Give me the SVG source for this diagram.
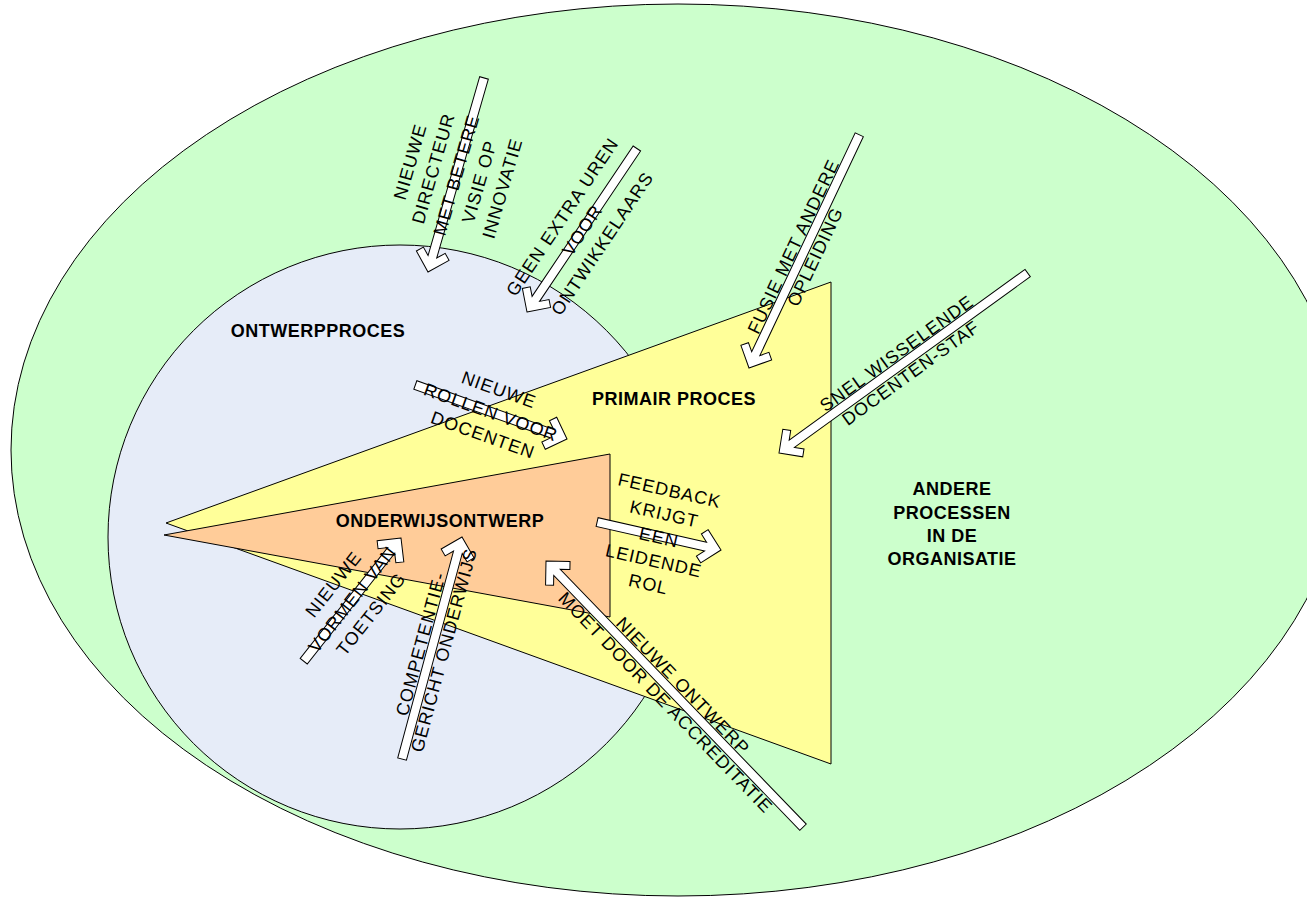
<svg xmlns="http://www.w3.org/2000/svg" width="1316" height="897" viewBox="0 0 1316 897">
<style>
.node{stroke:#000;stroke-width:1}
.title{font-family:"Liberation Sans",Arial,sans-serif;font-size:18px;font-weight:bold;letter-spacing:0.5px;fill:#000;text-anchor:middle}
.arrow{fill:#fff;stroke:#000;stroke-width:1;stroke-linejoin:miter}
.lbl{font-family:"Liberation Sans",Arial,sans-serif;font-size:18px;letter-spacing:1px;fill:#000;text-anchor:middle}
</style>
<defs>
<clipPath id="clipR"><rect x="0" y="0" width="1307" height="897"/></clipPath>
</defs>
<rect x="0" y="0" width="1316" height="897" fill="#fff"/>
<g id="andere-processen">
<ellipse class="node" cx="678" cy="450" rx="667" ry="446" fill="#CCFFCC" clip-path="url(#clipR)"/>
<text class="title"><tspan x="952" y="495">ANDERE</tspan><tspan x="952" y="519">PROCESSEN</tspan><tspan x="952" y="542">IN DE</tspan><tspan x="952" y="565">ORGANISATIE</tspan></text>
</g>
<g id="ontwerpproces">
<circle class="node" cx="400" cy="537" r="292" fill="#E6ECF8"/>
<text class="title" x="318" y="337">ONTWERPPROCES</text>
</g>
<g id="primair-proces">
<polygon class="node" points="166,523 831,282 831,764" fill="#FFFF99"/>
<text class="title" x="674" y="405">PRIMAIR PROCES</text>
</g>
<g id="onderwijsontwerp">
<polygon class="node" points="164,535 610,454 610,617" fill="#FFCC99"/>
<text class="title" x="440" y="527">ONDERWIJSONTWERP</text>
</g>
<g id="connectors">
<polygon class="arrow" transform="translate(428,272) rotate(106.1)" points="0,0 -17,-17 -22.66,-11.34 -15.82,-4.5 -202,-4.5 -202,4.5 -15.82,4.5 -22.66,11.34 -17,17"/>
<polygon class="arrow" transform="translate(527,312) rotate(123.9)" points="0,0 -17,-17 -22.66,-11.34 -15.82,-4.5 -197,-4.5 -197,4.5 -15.82,4.5 -22.66,11.34 -17,17"/>
<polygon class="arrow" transform="translate(749,368) rotate(115.3)" points="0,0 -17,-17 -22.66,-11.34 -15.82,-4.5 -258,-4.5 -258,4.5 -15.82,4.5 -22.66,11.34 -17,17"/>
<polygon class="arrow" transform="translate(779,453) rotate(144.1)" points="0,0 -17,-17 -22.66,-11.34 -15.82,-4.5 -307,-4.5 -307,4.5 -15.82,4.5 -22.66,11.34 -17,17"/>
<polygon class="arrow" transform="translate(567,439) rotate(19.6)" points="0,0 -17,-17 -22.66,-11.34 -15.82,-4.5 -161,-4.5 -161,4.5 -15.82,4.5 -22.66,11.34 -17,17"/>
<polygon class="arrow" transform="translate(721,550) rotate(12.7)" points="0,0 -17,-17 -22.66,-11.34 -15.82,-4.5 -127,-4.5 -127,4.5 -15.82,4.5 -22.66,11.34 -17,17"/>
<polygon class="arrow" transform="translate(401,538) rotate(-51.7)" points="0,0 -17,-17 -22.66,-11.34 -15.82,-4.5 -157,-4.5 -157,4.5 -15.82,4.5 -22.66,11.34 -17,17"/>
<polygon class="arrow" transform="translate(462,537) rotate(-74.9)" points="0,0 -17,-17 -22.66,-11.34 -15.82,-4.5 -230,-4.5 -230,4.5 -15.82,4.5 -22.66,11.34 -17,17"/>
<polygon class="arrow" transform="translate(546,561) rotate(-134)" points="0,0 -17,-17 -22.66,-11.34 -15.82,-4.5 -370,-4.5 -370,4.5 -15.82,4.5 -22.66,11.34 -17,17"/>

<text class="lbl" transform="translate(456,175) rotate(-73.9)"><tspan x="0" y="-41.5">NIEUWE</tspan><tspan x="0" y="-17.5">DIRECTEUR</tspan><tspan x="0" y="6.5">MET BETERE</tspan><tspan x="0" y="30.5">VISIE OP</tspan><tspan x="0" y="54.5">INNOVATIE</tspan></text>
<text class="lbl" transform="translate(582,230) rotate(-56.1)"><tspan x="0" y="-17.5">GEEN EXTRA UREN</tspan><tspan x="0" y="6.5">VOOR</tspan><tspan x="0" y="30.5">ONTWIKKELAARS</tspan></text>
<text class="lbl" transform="translate(804,251.5) rotate(-64.7)"><tspan x="0" y="-5.5">FUSIE MET ANDERE</tspan><tspan x="0" y="18.5">OPLEIDING</tspan></text>
<text class="lbl" transform="translate(903.5,363) rotate(-35.9)"><tspan x="0" y="-5.5">SNEL WISSELENDE</tspan><tspan x="0" y="18.5">DOCENTEN-STAF</tspan></text>
<text class="lbl" transform="translate(491,412) rotate(19.6)"><tspan x="0" y="-17.5">NIEUWE</tspan><tspan x="0" y="6.5">ROLLEN VOOR</tspan><tspan x="0" y="30.5">DOCENTEN</tspan></text>
<text class="lbl" transform="translate(659,537) rotate(12.7)"><tspan x="0" y="-41.5">FEEDBACK</tspan><tspan x="0" y="-17.5">KRIJGT</tspan><tspan x="0" y="6.5">EEN</tspan><tspan x="0" y="30.5">LEIDENDE</tspan><tspan x="0" y="54.5">ROL</tspan></text>
<text class="lbl" transform="translate(352,599) rotate(-51.7)"><tspan x="0" y="-17.5">NIEUWE</tspan><tspan x="0" y="6.5">VORMEN VAN</tspan><tspan x="0" y="30.5">TOETSING</tspan></text>
<text class="lbl" transform="translate(432,647) rotate(-74.9)"><tspan x="0" y="-5.5">COMPETENTIE-</tspan><tspan x="0" y="18.5">GERICHT ONDERWIJS</tspan></text>
<text class="lbl" transform="translate(674.5,694) rotate(46)"><tspan x="0" y="-5.5">NIEUWE ONTWERP</tspan><tspan x="0" y="18.5">MOET DOOR DE ACCREDITATIE</tspan></text>
</g>
</svg>
